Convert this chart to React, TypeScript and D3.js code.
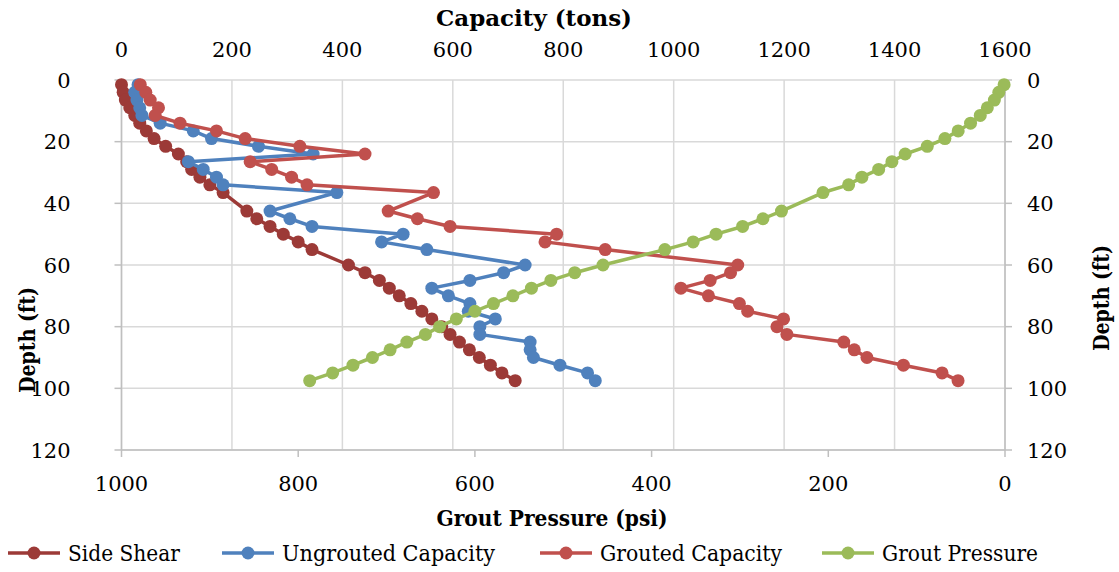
import React from 'react';
import * as d3 from 'd3';

// depth (ft) at which every series was sampled
const depths = [1.5, 4, 6.5, 9, 11.5, 14, 16.5, 19, 21.5, 24, 26.5, 29, 31.5, 34, 36.5, 42.5, 45, 47.5, 50, 52.5, 55,
  60, 62.5, 65, 67.5, 70, 72.5, 75, 77.5, 80, 82.5, 85, 87.5, 90, 92.5, 95, 97.5];

// capacities in tons
const sideShear = [0, 3, 7, 15, 24, 33, 45, 59, 80, 103, 118, 127, 142, 160, 184, 227, 245, 269, 293, 320, 345,
  411, 441, 467, 485, 503, 524, 544, 562, 580, 595, 612, 630, 648, 668, 689, 713];
const ungrouted = [30, 24, 28, 33, 37, 70, 130, 163, 248, 347, 121, 148, 172, 184, 390, 269, 305, 345, 510, 471, 553,
  731, 692, 631, 562, 592, 631, 628, 677, 649, 649, 740, 740, 746, 794, 844, 858];
const grouted = [34, 44, 52, 67, 61, 106, 172, 224, 323, 441, 233, 272, 308, 336, 565, 483, 536, 595, 788, 767, 876,
  1116, 1103, 1066, 1013, 1063, 1119, 1134, 1199, 1187, 1205, 1308, 1327, 1350, 1416, 1486, 1515];
// grout pressure in psi
const groutPressure = [1, 7, 12, 20, 28, 39, 53, 68, 88, 113, 128, 143, 162, 177, 206, 253, 274, 297, 327, 353, 385,
  455, 487, 514, 536, 557, 579, 600, 621, 640, 656, 677, 696, 716, 738, 761, 787];

const capacityTicks = [0, 200, 400, 600, 800, 1000, 1200, 1400, 1600];
const pressureTicks = [1000, 800, 600, 400, 200, 0];
const depthTicks = [0, 20, 40, 60, 80, 100, 120];

const seriesNames = ['Side Shear', 'Ungrouted Capacity', 'Grouted Capacity', 'Grout Pressure'];
const seriesColors = ['#9c3a37', '#4f81bd', '#c0504d', '#9bbb59'];

const W = 1119;
const H = 572;
const left = 121.5;
const right = 1005;
const top = 80;
const bottom = 450;
const font = "'DejaVu Serif', serif";

export default function App() {
  const x = d3.scaleLinear([0, 1600], [left, right]);
  const xp = d3.scaleLinear([1000, 0], [left, right]);
  const y = d3.scaleLinear([0, 120], [top, bottom]);

  const series = [
    { values: sideShear, sx: x },
    { values: ungrouted, sx: x },
    { values: grouted, sx: x },
    { values: groutPressure, sx: xp },
  ];

  // legend layout (Excel places the entries in one row under the chart)
  const legendX = [8, 222, 540, 822];
  const legendW = [112, 213, 182, 156];

  return (
    <svg width={W} height={H} style={{ position: 'absolute', left: 0, top: 0, background: '#fff', fontFamily: font }}
      fontSize={21}>
      {/* grid */}
      {capacityTicks.map(t => (
        <line key={'gx' + t} x1={x(t)} x2={x(t)} y1={top} y2={bottom} stroke="#d9d9d9" strokeWidth={1.5} />
      ))}
      {depthTicks.map(t => (
        <line key={'gy' + t} x1={left} x2={right} y1={y(t)} y2={y(t)} stroke="#d9d9d9" strokeWidth={1.5} />
      ))}

      {/* axis lines */}
      <line x1={left} x2={left} y1={top} y2={bottom} stroke="#bfbfbf" strokeWidth={1.5} />
      <line x1={right} x2={right} y1={top} y2={bottom} stroke="#bfbfbf" strokeWidth={1.5} />
      <line x1={left} x2={right} y1={bottom} y2={bottom} stroke="#bfbfbf" strokeWidth={1.5} />
      {depthTicks.map(t => (
        <g key={'ty' + t}>
          <line x1={left - 7} x2={left} y1={y(t)} y2={y(t)} stroke="#bfbfbf" strokeWidth={1.5} />
          <line x1={right} x2={right + 7} y1={y(t)} y2={y(t)} stroke="#bfbfbf" strokeWidth={1.5} />
          <text x={left - 51} y={y(t)} dy="0.36em" textAnchor="end">{t}</text>
          <text x={right + 22} y={y(t)} dy="0.36em" textAnchor="start">{t}</text>
        </g>
      ))}
      {pressureTicks.map(t => (
        <g key={'tp' + t}>
          <line x1={xp(t)} x2={xp(t)} y1={bottom} y2={bottom + 7} stroke="#bfbfbf" strokeWidth={1.5} />
          <text x={xp(t)} y={491} textAnchor="middle">{t}</text>
        </g>
      ))}
      {capacityTicks.map(t => (
        <text key={'tc' + t} x={x(t)} y={57} textAnchor="middle">{t}</text>
      ))}

      {/* axis titles */}
      <g fontWeight="bold" fontSize={23}>
        <text x={534} y={26} textAnchor="middle" textLength={196} lengthAdjust="spacingAndGlyphs">Capacity (tons)</text>
        <text x={552} y={526} textAnchor="middle" textLength={231} lengthAdjust="spacingAndGlyphs">Grout Pressure (psi)</text>
        <text transform="translate(35,340) rotate(-90)" textAnchor="middle" textLength={106}
          lengthAdjust="spacingAndGlyphs">Depth (ft)</text>
        <text transform="translate(1109,298) rotate(-90)" textAnchor="middle" textLength={106}
          lengthAdjust="spacingAndGlyphs">Depth (ft)</text>
      </g>

      {/* series */}
      {series.map((s, i) => {
        const pts: [number, number][] = s.values.map((v, j) => [s.sx(v), y(depths[j])]);
        const path = d3.line()(pts) || '';
        return (
          <g key={'s' + i}>
            <path d={path} fill="none" stroke={seriesColors[i]} strokeWidth={3.5} strokeLinejoin="round" />
            {pts.map((p, j) => (
              <circle key={j} cx={p[0]} cy={p[1]} r={6.5} fill={seriesColors[i]} />
            ))}
          </g>
        );
      })}

      {/* legend */}
      {seriesNames.map((n, i) => (
        <g key={'l' + i} transform={`translate(${legendX[i]},553)`}>
          <line x1={0} x2={52} y1={0} y2={0} stroke={seriesColors[i]} strokeWidth={3.5} />
          <circle cx={26} cy={0} r={6.5} fill={seriesColors[i]} />
          <text x={60} y={0} dy="0.36em" fontSize={22} textLength={legendW[i]}
            lengthAdjust="spacingAndGlyphs">{n}</text>
        </g>
      ))}
    </svg>
  );
}
